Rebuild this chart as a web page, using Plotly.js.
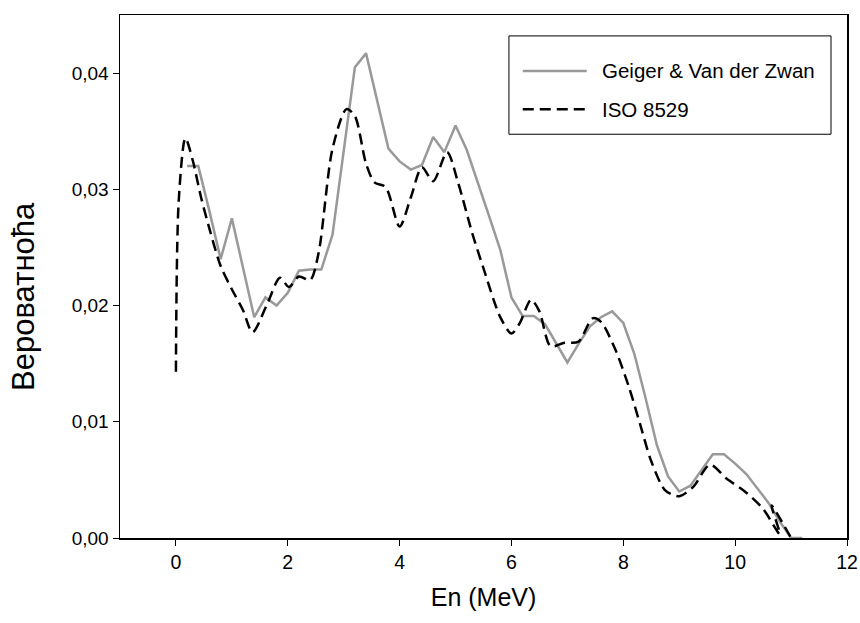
<!DOCTYPE html>
<html>
<head>
<meta charset="utf-8">
<script src="https://cdn.plot.ly/plotly-3.0.1.min.js"></script>
<style>html,body{margin:0;padding:0;background:#fff;}#chart{width:860px;height:623px;}</style>
</head>
<body>
<div id="chart"></div>
<script>
// Geiger & Van der Zwan spectrum
const geigerE = [0.2,0.4,0.6,0.8,1.0,1.2,1.4,1.6,1.8,2.0,2.2,2.4,2.6,2.8,3.0,3.2,3.4,3.6,3.8,4.0,4.2,4.4,4.6,4.8,5.0,5.2,5.4,5.6,5.8,6.0,6.2,6.4,6.6,6.8,7.0,7.2,7.4,7.6,7.8,8.0,8.2,8.4,8.6,8.8,9.0,9.2,9.4,9.6,9.8,10.0,10.2,10.4,10.6,10.8,11.0,11.2];
const geigerP = [0.0320,0.0320,0.0281,0.0240,0.0275,0.0233,0.0190,0.0207,0.0200,0.0211,0.0230,0.0231,0.0231,0.0261,0.0333,0.0405,0.0417,0.0376,0.0335,0.0324,0.0317,0.0321,0.0345,0.0332,0.0355,0.0334,0.0306,0.0277,0.0248,0.0207,0.0191,0.0191,0.0184,0.0167,0.0151,0.0167,0.0182,0.0190,0.0195,0.0185,0.0158,0.0120,0.0080,0.0053,0.0040,0.0045,0.0058,0.0072,0.0072,0.0064,0.0055,0.0042,0.0030,0.0014,0.0000,0.0000];

// ISO 8529 spectrum
const isoE = [0,0.05,0.17,0.3,0.45,0.6,0.8,1.0,1.2,1.37,1.63,1.86,2.02,2.2,2.4,2.55,2.8,3.05,3.2,3.4,3.55,3.75,4.0,4.2,4.4,4.6,4.85,5.05,5.3,5.5,5.8,6.0,6.15,6.35,6.5,6.7,6.95,7.2,7.45,7.6,7.85,8.1,8.3,8.5,8.75,9.0,9.25,9.55,9.85,10.2,10.5,10.8,10.65,11.0];
const isoP = [0.0143,0.0290,0.0344,0.0325,0.0293,0.0266,0.0234,0.0214,0.0196,0.0177,0.0201,0.0224,0.0216,0.0225,0.0222,0.0245,0.0335,0.0369,0.0363,0.0322,0.0306,0.0302,0.0268,0.0293,0.0319,0.0307,0.0332,0.0305,0.0262,0.0232,0.0190,0.0176,0.0185,0.0205,0.0195,0.0165,0.0168,0.0169,0.0189,0.0186,0.0163,0.0130,0.0098,0.0066,0.0041,0.0036,0.0044,0.0063,0.0051,0.0039,0.0025,0.0003,0.0028,0.0000];

const seriesNames = ['Geiger & Van der Zwan', 'ISO 8529'];
const xTicks = [0,2,4,6,8,10,12];
const yTicks = [0,0.01,0.02,0.03,0.04];
const yTitle = 'Вероватноћа';
const xTitle = 'En (MeV)';

const FONT = 'Arial, "Liberation Sans", sans-serif';

const traces = [
  {x: geigerE, y: geigerP, name: seriesNames[0], mode: 'lines', type: 'scatter',
   line: {color: '#999999', width: 2.5}, showlegend: false},
  {x: isoE, y: isoP, name: seriesNames[1], mode: 'lines', type: 'scatter',
   line: {color: '#000000', width: 2.5, dash: '11px,6px', shape: 'spline', smoothing: 0.8}, showlegend: false}
];

// legend drawn in paper coords
const lx0 = 0.535, lx1 = 0.978, ly0 = 0.772, ly1 = 0.960;
const shapes = [
  {type: 'rect', xref: 'paper', yref: 'paper', x0: lx0, x1: lx1, y0: ly0, y1: ly1, line: {color: '#000', width: 1}, fillcolor: 'rgba(0,0,0,0)'},
  {type: 'line', xref: 'paper', yref: 'paper', x0: 0.554, x1: 0.642, y0: 0.893, y1: 0.893, line: {color: '#999999', width: 2.5}},
  {type: 'line', xref: 'paper', yref: 'paper', x0: 0.554, x1: 0.642, y0: 0.820, y1: 0.820, line: {color: '#000', width: 2.5, dash: '11px,6px'}}
];
const annotations = [
  {xref: 'paper', yref: 'paper', x: 0.660, y: 0.893, xanchor: 'left', yanchor: 'middle', text: seriesNames[0], showarrow: false, font: {family: FONT, size: 20.5, color: '#000'}},
  {xref: 'paper', yref: 'paper', x: 0.660, y: 0.820, xanchor: 'left', yanchor: 'middle', text: seriesNames[1], showarrow: false, font: {family: FONT, size: 20.5, color: '#000'}},
  {xref: 'paper', yref: 'paper', x: 0, xshift: -96, y: 0.461, xanchor: 'center', yanchor: 'middle', textangle: -90, text: yTitle, showarrow: false, font: {family: FONT, size: 31, color: '#000'}}
];

const layout = {
  width: 860, height: 623,
  margin: {l: 120, r: 13, t: 15, b: 85},
  paper_bgcolor: '#ffffff', plot_bgcolor: '#ffffff',
  separators: ', ',
  font: {family: FONT, size: 19, color: '#000'},
  showlegend: false,
  xaxis: {
    range: [-1, 12], tickvals: xTicks, ticktext: xTicks.map(String),
    ticks: 'outside', ticklen: 6, tickwidth: 1, tickcolor: '#000',
    showline: true, linecolor: '#000', linewidth: 1.5, mirror: true,
    showgrid: false, zeroline: false,
    title: {text: xTitle, font: {family: FONT, size: 25}, standoff: 16},
    tickfont: {family: FONT, size: 19.5}
  },
  yaxis: {
    range: [0, 0.045], tickvals: yTicks, tickformat: '.2f',
    ticks: 'outside', ticklen: 6, tickwidth: 1, tickcolor: '#000',
    showline: true, linecolor: '#000', linewidth: 1.5, mirror: true,
    showgrid: false, zeroline: false,
    tickfont: {family: FONT, size: 19}
  },
  shapes: shapes,
  annotations: annotations
};

Plotly.newPlot('chart', traces, layout, {displayModeBar: false, staticPlot: true});
</script>
</body>
</html>
